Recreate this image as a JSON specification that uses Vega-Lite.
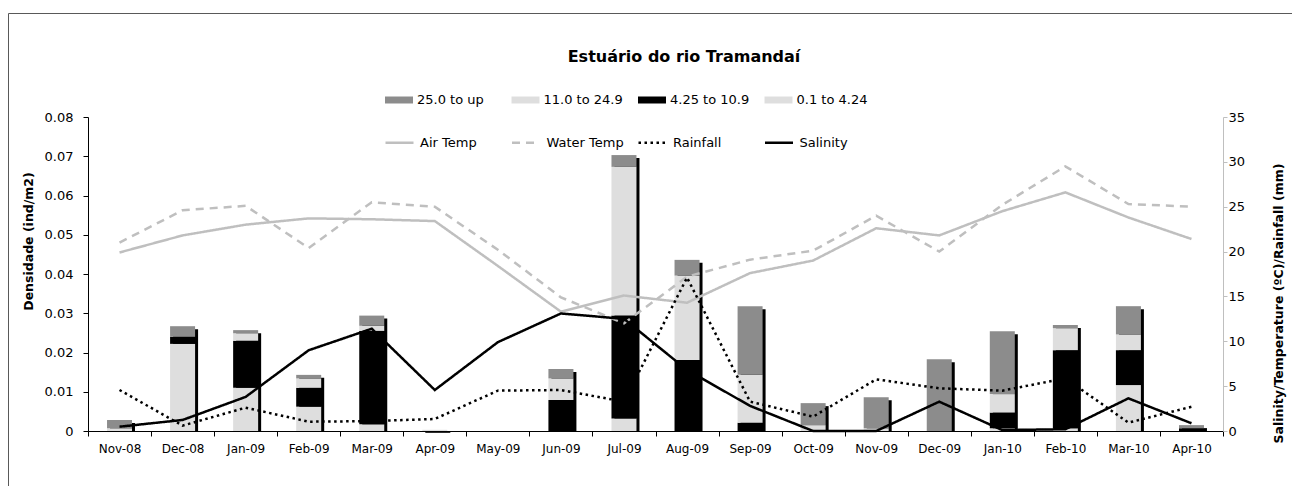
{
  "$schema": "https://vega.github.io/schema/vega-lite/v6.json",
  "width": 1286,
  "height": 475,
  "autosize": {"type": "none"},
  "padding": {"left": 8, "top": 13, "right": -2, "bottom": -2},
  "background": "white",
  "config": {
    "view": {"stroke": "#595959", "strokeWidth": 1},
    "font": "DejaVu Sans",
    "axis": {"labelColor": "black", "titleColor": "black", "labelFont": "DejaVu Sans", "titleFont": "DejaVu Sans", "grid": false},
    "legend": {"labelFont": "DejaVu Sans", "labelColor": "black", "labelFontSize": 13, "padding": 0}
  },
  "title": {
    "text": "Estuário do rio Tramandaí",
    "fontSize": 16,
    "fontWeight": "bold",
    "font": "DejaVu Sans",
    "color": "black",
    "frame": "group",
    "anchor": "middle",
    "offset": -65,
    "baseline": "alphabetic",
    "dx": 33
  },
  "datasets": {
    "bars": [
      {"month": "Nov-08", "cls": "0.1 to 4.24", "lo": 0.1, "dens": 0.0007},
      {"month": "Nov-08", "cls": "25.0 to up", "lo": 25.0, "dens": 0.0021},
      {"month": "Dec-08", "cls": "0.1 to 4.24", "lo": 0.1, "dens": 0.0222},
      {"month": "Dec-08", "cls": "4.25 to 10.9", "lo": 4.25, "dens": 0.0018},
      {"month": "Dec-08", "cls": "25.0 to up", "lo": 25.0, "dens": 0.0027},
      {"month": "Jan-09", "cls": "0.1 to 4.24", "lo": 0.1, "dens": 0.0110},
      {"month": "Jan-09", "cls": "4.25 to 10.9", "lo": 4.25, "dens": 0.0120},
      {"month": "Jan-09", "cls": "11.0 to 24.9", "lo": 11.0, "dens": 0.0019},
      {"month": "Jan-09", "cls": "25.0 to up", "lo": 25.0, "dens": 0.0008},
      {"month": "Feb-09", "cls": "0.1 to 4.24", "lo": 0.1, "dens": 0.0062},
      {"month": "Feb-09", "cls": "4.25 to 10.9", "lo": 4.25, "dens": 0.0048},
      {"month": "Feb-09", "cls": "11.0 to 24.9", "lo": 11.0, "dens": 0.0024},
      {"month": "Feb-09", "cls": "25.0 to up", "lo": 25.0, "dens": 0.0009},
      {"month": "Mar-09", "cls": "0.1 to 4.24", "lo": 0.1, "dens": 0.0017},
      {"month": "Mar-09", "cls": "4.25 to 10.9", "lo": 4.25, "dens": 0.0238},
      {"month": "Mar-09", "cls": "11.0 to 24.9", "lo": 11.0, "dens": 0.0013},
      {"month": "Mar-09", "cls": "25.0 to up", "lo": 25.0, "dens": 0.0026},
      {"month": "Apr-09", "cls": "0.1 to 4.24", "lo": 0.1, "dens": 0.0003},
      {"month": "Jun-09", "cls": "4.25 to 10.9", "lo": 4.25, "dens": 0.0079},
      {"month": "Jun-09", "cls": "11.0 to 24.9", "lo": 11.0, "dens": 0.0055},
      {"month": "Jun-09", "cls": "25.0 to up", "lo": 25.0, "dens": 0.0024},
      {"month": "Jul-09", "cls": "0.1 to 4.24", "lo": 0.1, "dens": 0.0032},
      {"month": "Jul-09", "cls": "4.25 to 10.9", "lo": 4.25, "dens": 0.0262},
      {"month": "Jul-09", "cls": "11.0 to 24.9", "lo": 11.0, "dens": 0.0379},
      {"month": "Jul-09", "cls": "25.0 to up", "lo": 25.0, "dens": 0.0030},
      {"month": "Aug-09", "cls": "4.25 to 10.9", "lo": 4.25, "dens": 0.0181},
      {"month": "Aug-09", "cls": "11.0 to 24.9", "lo": 11.0, "dens": 0.0215},
      {"month": "Aug-09", "cls": "25.0 to up", "lo": 25.0, "dens": 0.0040},
      {"month": "Sep-09", "cls": "4.25 to 10.9", "lo": 4.25, "dens": 0.0021},
      {"month": "Sep-09", "cls": "11.0 to 24.9", "lo": 11.0, "dens": 0.0122},
      {"month": "Sep-09", "cls": "25.0 to up", "lo": 25.0, "dens": 0.0175},
      {"month": "Oct-09", "cls": "0.1 to 4.24", "lo": 0.1, "dens": 0.0015},
      {"month": "Oct-09", "cls": "25.0 to up", "lo": 25.0, "dens": 0.0056},
      {"month": "Nov-09", "cls": "0.1 to 4.24", "lo": 0.1, "dens": 0.0007},
      {"month": "Nov-09", "cls": "25.0 to up", "lo": 25.0, "dens": 0.0079},
      {"month": "Dec-09", "cls": "25.0 to up", "lo": 25.0, "dens": 0.0183},
      {"month": "Jan-10", "cls": "0.1 to 4.24", "lo": 0.1, "dens": 0.0007},
      {"month": "Jan-10", "cls": "4.25 to 10.9", "lo": 4.25, "dens": 0.0040},
      {"month": "Jan-10", "cls": "11.0 to 24.9", "lo": 11.0, "dens": 0.0047},
      {"month": "Jan-10", "cls": "25.0 to up", "lo": 25.0, "dens": 0.0160},
      {"month": "Feb-10", "cls": "0.1 to 4.24", "lo": 0.1, "dens": 0.0007},
      {"month": "Feb-10", "cls": "4.25 to 10.9", "lo": 4.25, "dens": 0.0199},
      {"month": "Feb-10", "cls": "11.0 to 24.9", "lo": 11.0, "dens": 0.0056},
      {"month": "Feb-10", "cls": "25.0 to up", "lo": 25.0, "dens": 0.0008},
      {"month": "Mar-10", "cls": "0.1 to 4.24", "lo": 0.1, "dens": 0.0117},
      {"month": "Mar-10", "cls": "4.25 to 10.9", "lo": 4.25, "dens": 0.0089},
      {"month": "Mar-10", "cls": "11.0 to 24.9", "lo": 11.0, "dens": 0.0040},
      {"month": "Mar-10", "cls": "25.0 to up", "lo": 25.0, "dens": 0.0072},
      {"month": "Apr-10", "cls": "4.25 to 10.9", "lo": 4.25, "dens": 0.0007},
      {"month": "Apr-10", "cls": "25.0 to up", "lo": 25.0, "dens": 0.0008}
    ],
    "lines": [
      {"month": "Nov-08", "series": "Air Temp", "value": 19.9},
      {"month": "Dec-08", "series": "Air Temp", "value": 21.8},
      {"month": "Jan-09", "series": "Air Temp", "value": 23.0},
      {"month": "Feb-09", "series": "Air Temp", "value": 23.7},
      {"month": "Mar-09", "series": "Air Temp", "value": 23.6},
      {"month": "Apr-09", "series": "Air Temp", "value": 23.4},
      {"month": "May-09", "series": "Air Temp", "value": 18.4},
      {"month": "Jun-09", "series": "Air Temp", "value": 13.3},
      {"month": "Jul-09", "series": "Air Temp", "value": 15.1},
      {"month": "Aug-09", "series": "Air Temp", "value": 14.3},
      {"month": "Sep-09", "series": "Air Temp", "value": 17.6},
      {"month": "Oct-09", "series": "Air Temp", "value": 19.0},
      {"month": "Nov-09", "series": "Air Temp", "value": 22.6},
      {"month": "Dec-09", "series": "Air Temp", "value": 21.8},
      {"month": "Jan-10", "series": "Air Temp", "value": 24.5},
      {"month": "Feb-10", "series": "Air Temp", "value": 26.6},
      {"month": "Mar-10", "series": "Air Temp", "value": 23.8},
      {"month": "Apr-10", "series": "Air Temp", "value": 21.4},
      {"month": "Nov-08", "series": "Water Temp", "value": 21.0},
      {"month": "Dec-08", "series": "Water Temp", "value": 24.6},
      {"month": "Jan-09", "series": "Water Temp", "value": 25.1},
      {"month": "Feb-09", "series": "Water Temp", "value": 20.4},
      {"month": "Mar-09", "series": "Water Temp", "value": 25.5},
      {"month": "Apr-09", "series": "Water Temp", "value": 25.0},
      {"month": "May-09", "series": "Water Temp", "value": 20.2},
      {"month": "Jun-09", "series": "Water Temp", "value": 14.9},
      {"month": "Jul-09", "series": "Water Temp", "value": 12.0},
      {"month": "Aug-09", "series": "Water Temp", "value": 17.2},
      {"month": "Sep-09", "series": "Water Temp", "value": 19.1},
      {"month": "Oct-09", "series": "Water Temp", "value": 20.1},
      {"month": "Nov-09", "series": "Water Temp", "value": 24.0},
      {"month": "Dec-09", "series": "Water Temp", "value": 20.0},
      {"month": "Jan-10", "series": "Water Temp", "value": 25.2},
      {"month": "Feb-10", "series": "Water Temp", "value": 29.5},
      {"month": "Mar-10", "series": "Water Temp", "value": 25.3},
      {"month": "Apr-10", "series": "Water Temp", "value": 25.0},
      {"month": "Nov-08", "series": "Rainfall", "value": 4.57},
      {"month": "Dec-08", "series": "Rainfall", "value": 0.6},
      {"month": "Jan-09", "series": "Rainfall", "value": 2.6},
      {"month": "Feb-09", "series": "Rainfall", "value": 1.04},
      {"month": "Mar-09", "series": "Rainfall", "value": 1.1},
      {"month": "Apr-09", "series": "Rainfall", "value": 1.34},
      {"month": "May-09", "series": "Rainfall", "value": 4.5},
      {"month": "Jun-09", "series": "Rainfall", "value": 4.57},
      {"month": "Jul-09", "series": "Rainfall", "value": 3.27},
      {"month": "Aug-09", "series": "Rainfall", "value": 17.1},
      {"month": "Sep-09", "series": "Rainfall", "value": 3.27},
      {"month": "Oct-09", "series": "Rainfall", "value": 1.6},
      {"month": "Nov-09", "series": "Rainfall", "value": 5.76},
      {"month": "Dec-09", "series": "Rainfall", "value": 4.76},
      {"month": "Jan-10", "series": "Rainfall", "value": 4.5},
      {"month": "Feb-10", "series": "Rainfall", "value": 5.87},
      {"month": "Mar-10", "series": "Rainfall", "value": 0.93},
      {"month": "Apr-10", "series": "Rainfall", "value": 2.7},
      {"month": "Nov-08", "series": "Salinity", "value": 0.48},
      {"month": "Dec-08", "series": "Salinity", "value": 1.23},
      {"month": "Jan-09", "series": "Salinity", "value": 3.8},
      {"month": "Feb-09", "series": "Salinity", "value": 9.0},
      {"month": "Mar-09", "series": "Salinity", "value": 11.4},
      {"month": "Apr-09", "series": "Salinity", "value": 4.57},
      {"month": "May-09", "series": "Salinity", "value": 9.9},
      {"month": "Jun-09", "series": "Salinity", "value": 13.1},
      {"month": "Jul-09", "series": "Salinity", "value": 12.5},
      {"month": "Aug-09", "series": "Salinity", "value": 6.8},
      {"month": "Sep-09", "series": "Salinity", "value": 2.8},
      {"month": "Oct-09", "series": "Salinity", "value": 0.0},
      {"month": "Nov-09", "series": "Salinity", "value": 0.0},
      {"month": "Dec-09", "series": "Salinity", "value": 3.27},
      {"month": "Jan-10", "series": "Salinity", "value": 0.1},
      {"month": "Feb-10", "series": "Salinity", "value": 0.2},
      {"month": "Mar-10", "series": "Salinity", "value": 3.64},
      {"month": "Apr-10", "series": "Salinity", "value": 0.86}
    ]
  },
  "encoding": {
    "x": {
      "field": "month",
      "type": "nominal",
      "scale": {
        "domain": ["Nov-08","Dec-08","Jan-09","Feb-09","Mar-09","Apr-09","May-09","Jun-09","Jul-09","Aug-09","Sep-09","Oct-09","Nov-09","Dec-09","Jan-10","Feb-10","Mar-10","Apr-10"],
        "range": [80, 1215],
        "paddingInner": 0,
        "paddingOuter": 0
      },
      "axis": {
        "orient": "bottom",
        "offset": -57,
        "title": null,
        "tickBand": "extent",
        "tickSize": 5,
        "tickColor": "black",
        "domainColor": "black",
        "labelFontSize": 12,
        "labelPadding": 7,
        "labelAngle": 0
      }
    }
  },
  "layer": [
    {
      "data": {"name": "bars"},
      "layer": [
        {
          "mark": {"type": "bar", "size": 25, "color": "black", "xOffset": 3, "yOffset": 3},
          "encoding": {
            "y": {
              "aggregate": "sum",
              "field": "dens",
              "type": "quantitative",
              "title": "Densidade (ind/m2)",
              "scale": {"domain": [0, 0.08], "range": [418, 104], "nice": false, "zero": true},
              "axis": {
                "orient": "left",
                "offset": -80,
                "values": [0, 0.01, 0.02, 0.03, 0.04, 0.05, 0.06, 0.07, 0.08],
                "format": ".2~f",
                "tickSize": 5,
                "tickColor": "black",
                "domainColor": "black",
                "labelFontSize": 13,
                "labelPadding": 10,
                "title": "Densidade (ind/m2)",
                "titleFontSize": 12.5,
                "titleFontWeight": "bold",
                "titleAngle": 270,
                "titleX": -60,
                "titleY": 228,
                "titleBaseline": "middle",
                "titleAlign": "center"
              }
            },
            "y2": {"datum": 0}
          }
        },
        {
          "mark": {"type": "bar", "size": 25},
          "encoding": {
            "y": {
              "field": "dens",
              "type": "quantitative",
              "stack": "zero",
              "title": "Densidade (ind/m2)",
              "scale": {"domain": [0, 0.08], "range": [418, 104], "nice": false, "zero": true},
              "axis": {
                "orient": "left",
                "offset": -80,
                "values": [0, 0.01, 0.02, 0.03, 0.04, 0.05, 0.06, 0.07, 0.08],
                "format": ".2~f",
                "tickSize": 5,
                "tickColor": "black",
                "domainColor": "black",
                "labelFontSize": 13,
                "labelPadding": 10,
                "title": "Densidade (ind/m2)",
                "titleFontSize": 12.5,
                "titleFontWeight": "bold",
                "titleAngle": 270,
                "titleX": -60,
                "titleY": 228,
                "titleBaseline": "middle",
                "titleAlign": "center"
              }
            },
            "fill": {
              "field": "cls",
              "type": "nominal",
              "scale": {
                "domain": ["25.0 to up", "11.0 to 24.9", "4.25 to 10.9", "0.1 to 4.24"],
                "range": ["#8c8c8c", "#dedede", "#000000", "#dedede"]
              },
              "legend": {
                "orient": "none",
                "legendX": 384,
                "legendY": 80,
                "direction": "horizontal",
                "columns": 4,
                "title": null,
                "symbolType": "M-2,-0.5H2V0.5H-2Z",
                "symbolSize": 196,
                "symbolStrokeWidth": 0,
                "symbolOpacity": 1,
                "labelOffset": 11,
                "columnPadding": 14.5,
                "gridAlign": "all"
              }
            },
            "order": {"field": "lo", "type": "quantitative", "sort": "ascending"}
          }
        }
      ]
    },
    {
      "data": {"name": "lines"},
      "mark": {"type": "line", "strokeWidth": 2.5},
      "encoding": {
        "y": {
          "field": "value",
          "type": "quantitative",
          "scale": {"domain": [0, 35], "range": [418, 104], "nice": false, "zero": true},
          "axis": {
            "orient": "right",
            "offset": -71,
            "values": [0, 5, 10, 15, 20, 25, 30, 35],
            "tickSize": 4,
            "tickColor": "#bfbfbf",
            "domainColor": "#bfbfbf",
            "labelFontSize": 13,
            "labelPadding": 1,
            "title": "Salinity/Temperature (ºC)/Rainfall (mm)",
            "titleFontSize": 12.5,
            "titleFontWeight": "bold",
            "titleAngle": 270,
            "titleX": 55,
            "titleY": 290,
            "titleBaseline": "middle",
            "titleAlign": "center"
          }
        },
        "stroke": {
          "field": "series",
          "type": "nominal",
          "scale": {
            "domain": ["Air Temp", "Water Temp", "Rainfall", "Salinity"],
            "range": ["#bfbfbf", "#bfbfbf", "#000000", "#000000"]
          },
          "legend": {
            "orient": "none",
            "legendX": 376,
            "legendY": 114,
            "direction": "horizontal",
            "columns": 4,
            "title": null,
            "symbolType": "stroke",
            "symbolSize": 784,
            "symbolStrokeWidth": 2.5,
            "labelOffset": 5,
            "columnPadding": 8.5,
            "gridAlign": "all"
          }
        },
        "strokeDash": {
          "field": "series",
          "type": "nominal",
          "scale": {
            "domain": ["Air Temp", "Water Temp", "Rainfall", "Salinity"],
            "range": [[1, 0], [8, 6], [2.5, 3.5], [1, 0]]
          },
          "legend": {
            "orient": "none",
            "legendX": 376,
            "legendY": 114,
            "direction": "horizontal",
            "columns": 4,
            "title": null,
            "symbolType": "stroke",
            "symbolSize": 784,
            "symbolStrokeWidth": 2.5,
            "labelOffset": 5,
            "columnPadding": 8.5,
            "gridAlign": "all"
          }
        }
      }
    }
  ],
  "resolve": {"scale": {"y": "independent"}}
}
